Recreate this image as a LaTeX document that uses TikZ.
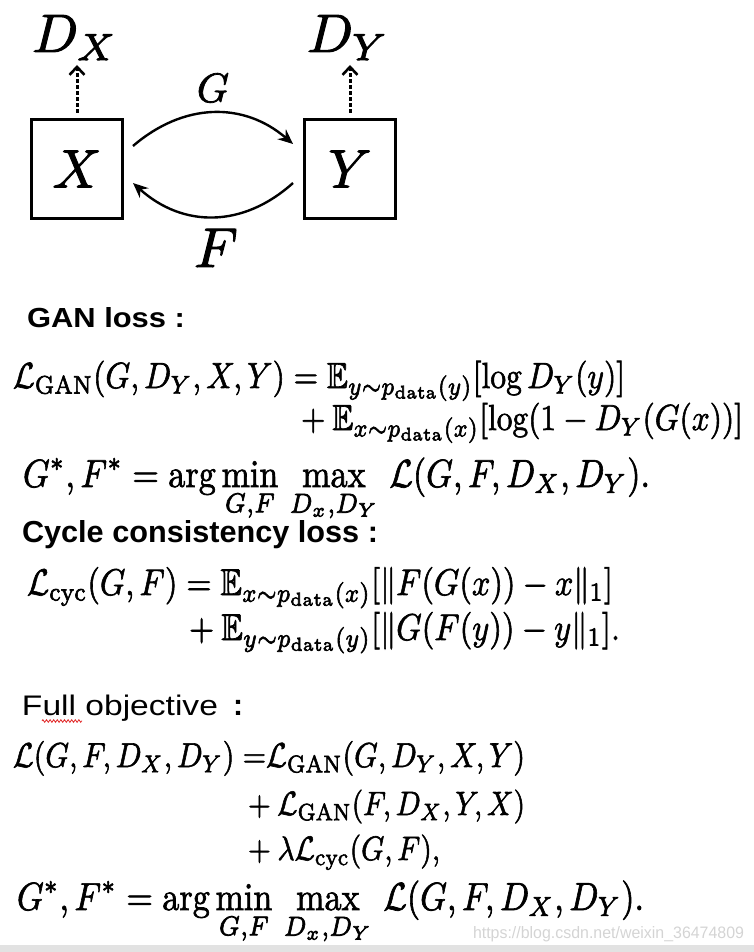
\documentclass[tikz,border=0pt]{standalone}
\usepackage{amsmath,amssymb}
\usepackage{graphicx}
\usepackage{fontspec}
\newfontfamily\headfont{Liberation Sans}
\usetikzlibrary{arrows.meta,decorations.pathmorphing}
\definecolor{stripgray}{RGB}{226,226,226}
\definecolor{wmgray}{RGB}{212,212,212}
\definecolor{spellred}{RGB}{225,40,40}
\newcommand\thickink[1]{\special{pdf:literal direct 2 Tr 0.18 w}#1\special{pdf:literal direct 0 Tr}}
\newcommand\eqline[2]{\scalebox{1}[1.15]{\resizebox{#1}{!}{\thickink{$#2$}}}}
\tikzset{
  dashtip/.tip={Straight Barb[length=8pt,width=15pt,line width=2.6pt]},
}
\begin{document}
\begin{tikzpicture}[x=1pt,y=-1pt,
  box/.style={draw, line width=2.6pt, minimum width=91pt, minimum height=99pt, inner sep=0pt, outer sep=0pt},
  lbl/.style={inner sep=0pt, outer sep=0pt, anchor=base},
  eqn/.style={inner sep=0pt, outer sep=0pt, anchor=base west},
  head/.style={inner sep=0pt, outer sep=0pt, anchor=base west, font=\headfont},
  bentarrow/.style={line width=2.4pt, -{Stealth[length=15pt,width=13pt,inset=5pt]}},
  dasharrow/.style={line width=3pt, dash pattern=on 4pt off 2pt, -dashtip}
]
\useasboundingbox (0,0) rectangle (754,952);
\fill[stripgray] (0,945) rectangle (754,952);

% ---- diagram ----
\node[box] (X) at (77,169) {\scalebox{5.4}{\thickink{$X$}}};
\node[box] (Y) at (350,169) {\scalebox{5.4}{\thickink{$Y$}}};
\node[lbl] (DX) at (75,52) {\scalebox{5.4}{\thickink{$D_X$}}};
\node[lbl] (DY) at (348,52) {\scalebox{5.4}{\thickink{$D_Y$}}};
\node[lbl] (G) at (213,102) {\scalebox{4.1}{\thickink{$G$}}};
\node[lbl] (F) at (216,267) {\scalebox{5.6}{\thickink{$F$}}};
\coordinate (dxtip) at (77,65);
\coordinate (dytip) at (350,65);
\draw[dasharrow, shorten <=6.5pt] (X.north) -- (dxtip);
\draw[dasharrow, shorten <=6.5pt] (Y.north) -- (dytip);
\draw[bentarrow] ([shift={(10.5,-23)}]X.east) .. controls +(50,-43) and +(-50,-43) .. ([shift={(-11.5,-25)}]Y.west);
\draw[bentarrow] ([shift={(-11.5,14)}]Y.west) .. controls +(-50,45) and +(50,45) .. ([shift={(10.5,14)}]X.east);

% ---- GAN loss ----
\node[head] (h1) at (27,327) {\resizebox{158pt}{20pt}{\bfseries GAN loss :}};
\node[eqn] (g1) at (13,388) {\eqline{612pt}{\mathcal{L}_{\text{GAN}}(G, D_Y, X, Y) = \mathbb{E}_{y\sim p_{\text{data}}(y)}[\log D_Y(y)]}};
\node[eqn] (g2) at (301,430) {\eqline{442pt}{+\mskip\medmuskip \mathbb{E}_{x\sim p_{\text{data}}(x)}[\log(1-D_Y(G(x))]}};
\node[eqn] (g3) at (23,487) {\eqline{627pt}{\displaystyle G^*, F^* = \arg\min_{G,F}\,\max_{D_x,D_Y}\,\mathcal{L}(G,F,D_X,D_Y).}};

% ---- Cycle consistency loss ----
\node[head] (h2) at (22,542) {\resizebox{356pt}{22pt}{\bfseries Cycle consistency loss :}};
\node[eqn] (c1) at (27,595) {\eqline{586pt}{\mathcal{L}_{\text{cyc}}(G,F) = \mathbb{E}_{x\sim p_{\text{data}}(x)}[\|F(G(x)) - x\|_1]}};
\node[eqn] (c2) at (189,640) {\eqline{431pt}{+\mskip\medmuskip \mathbb{E}_{y\sim p_{\text{data}}(y)}[\|G(F(y)) - y\|_1].}};

% ---- Full objective ----
\node[head] (h3) at (22,715) {\resizebox{196pt}{20.5pt}{Full objective}};
\node[head] (h3c) at (233,715) {\fontsize{30}{30}\selectfont\bfseries :};
\draw[spellred, line width=0.8pt, decorate, decoration={zigzag, amplitude=1.3pt, segment length=3.6pt}] (42,721) -- (82,721);
\node[eqn] (f1) at (13,767) {\eqline{512pt}{\mathcal{L}(G,F,D_X,D_Y)\mskip\thickmuskip{=}\mathcal{L}_{\text{GAN}}(G,D_Y,X,Y)}};
\node[eqn] (f2) at (248,815) {\eqline{277pt}{+\mskip\medmuskip\mathcal{L}_{\text{GAN}}(F,D_X,Y,X)}};
\node[eqn] (f3) at (248,860) {\eqline{192pt}{+\mskip\medmuskip\lambda\mathcal{L}_{\text{cyc}}(G,F),}};
\node[eqn] (f4) at (17,910) {\eqline{627pt}{\displaystyle G^*, F^* = \arg\min_{G,F}\,\max_{D_x,D_Y}\,\mathcal{L}(G,F,D_X,D_Y).}};

% ---- watermark ----
\node[eqn, text=wmgray] (wm) at (473,938) {\resizebox{271pt}{12pt}{\headfont https://blog.csdn.net/weixin\_36474809}};
\end{tikzpicture}
\end{document}
